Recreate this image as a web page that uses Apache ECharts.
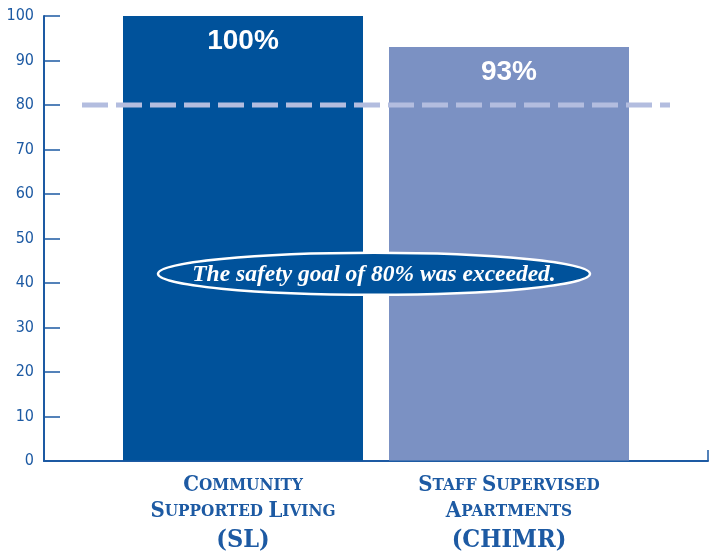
<!DOCTYPE html>
<html>
<head>
<meta charset="utf-8">
<script src="https://cdn.jsdelivr.net/npm/echarts@6/dist/echarts.min.js"></script>
<style>html,body{margin:0;padding:0;background:#fff}#c{width:715px;height:553px}</style>
</head>
<body>
<div id="c"></div>
<script>
// ---- data ----
const categoryLines = [
  ['Community', 'Supported Living', '(SL)'],
  ['Staff Supervised', 'Apartments', '(CHIMR)']
];
const values = [100, 93];
const valueLabels = ['100%', '93%'];
const goal = 80;
const yTicks = [0, 10, 20, 30, 40, 50, 60, 70, 80, 90, 100];
const note = 'The safety goal of 80% was exceeded.';
const noteValue = 42;

// ---- styles ----
const DARK = '#00529b';
const LIGHT = '#7b91c3';
const AXIS = '#1d5aa3';
const barColors = [DARK, LIGHT];
const SERIF = '"DejaVu Serif Condensed", "Liberation Serif", serif';

function smallCaps(line) {
  if (/^\(.*\)$/.test(line)) return '{p|' + line.toUpperCase() + '}';
  return line.split(' ').map(w => '{b|' + w[0].toUpperCase() + '}{s|' + w.slice(1).toUpperCase() + '}').join('{s| }');
}
const categories = categoryLines.map(l => l.join(' '));

const chart = echarts.init(document.getElementById('c'), null, {renderer: 'canvas'});
const gTop = 16, gBottom = 92;
chart.setOption({
  animation: false,
  backgroundColor: '#fff',
  grid: [
    {left: 44, right: 7, top: gTop, bottom: gBottom},
    {left: 110, right: 73, top: gTop, bottom: gBottom},
    {left: 82, right: 45, top: gTop, bottom: gBottom}
  ],
  xAxis: [
    {gridIndex: 0, type: 'category', data: [''], boundaryGap: true,
      axisLine: {show: true, lineStyle: {color: AXIS, width: 2}},
      axisTick: {show: true, inside: true, length: 11, lineStyle: {color: AXIS, width: 1.5}},
      axisLabel: {show: false}, splitLine: {show: false}},
    {gridIndex: 1, type: 'category', data: categories,
      axisLine: {show: false}, axisTick: {show: false}, splitLine: {show: false},
      axisLabel: {
        interval: 0, margin: 12,
        formatter: function (v, i) { return categoryLines[i].map(smallCaps).join('\n'); },
        rich: {
          b: {fontFamily: SERIF, fontWeight: 'bold', fontSize: 22, color: AXIS, lineHeight: 26},
          s: {fontFamily: SERIF, fontWeight: 'bold', fontSize: 17, color: AXIS, lineHeight: 26},
          p: {fontFamily: SERIF, fontWeight: 'bold', fontSize: 25, color: AXIS, lineHeight: 32}
        }
      }},
    {gridIndex: 2, type: 'category', data: ['', ''], boundaryGap: false, show: false}
  ],
  yAxis: [
    {gridIndex: 0, type: 'value', min: 0, max: 100, interval: 10,
      axisLine: {show: true, lineStyle: {color: AXIS, width: 2}},
      axisTick: {show: true, inside: true, length: 16, lineStyle: {color: AXIS, width: 1.5}},
      splitLine: {show: false},
      axisLabel: {margin: 10, color: AXIS, fontFamily: '"DejaVu Sans Condensed", Roboto, sans-serif', fontSize: 16,
        formatter: v => yTicks.includes(v) ? String(v) : ''}},
    {gridIndex: 1, type: 'value', min: 0, max: 100, interval: 10, show: false},
    {gridIndex: 2, type: 'value', min: 0, max: 100, interval: 10, show: false}
  ],
  series: [
    {type: 'bar', xAxisIndex: 1, yAxisIndex: 1, barWidth: 240, z: 2,
      data: values.map((v, i) => ({value: v, itemStyle: {color: barColors[i]}})),
      label: {show: true, position: 'insideTop', distance: 11, color: '#fff',
        fontFamily: 'Liberation Sans', fontWeight: 'bold', fontSize: 28,
        formatter: p => valueLabels[p.dataIndex]}},
    {type: 'line', xAxisIndex: 2, yAxisIndex: 2, z: 5, data: [goal, goal],
      showSymbol: false, symbol: 'none', silent: true,
      lineStyle: {color: '#b3bddf', width: 5, type: [26, 8]}}
  ]
});

const p0 = chart.convertToPixel({xAxisIndex: 1, yAxisIndex: 1}, [0, noteValue]);
const p1 = chart.convertToPixel({xAxisIndex: 1, yAxisIndex: 1}, [1, noteValue]);
const cx = (p0[0] + p1[0]) / 2 - 2, cy = p0[1];
chart.setOption({
  graphic: [
    {type: 'ellipse', z: 100, shape: {cx: cx, cy: cy, rx: 216, ry: 21},
      style: {fill: DARK, stroke: '#fff', lineWidth: 2.5}},
    {type: 'text', z: 101, x: cx, y: cy + 1,
      style: {text: note, fill: '#fff', font: 'italic bold 23.5px "Liberation Serif", serif',
        textAlign: 'center', textVerticalAlign: 'middle'}}
  ]
});
</script>
</body>
</html>
